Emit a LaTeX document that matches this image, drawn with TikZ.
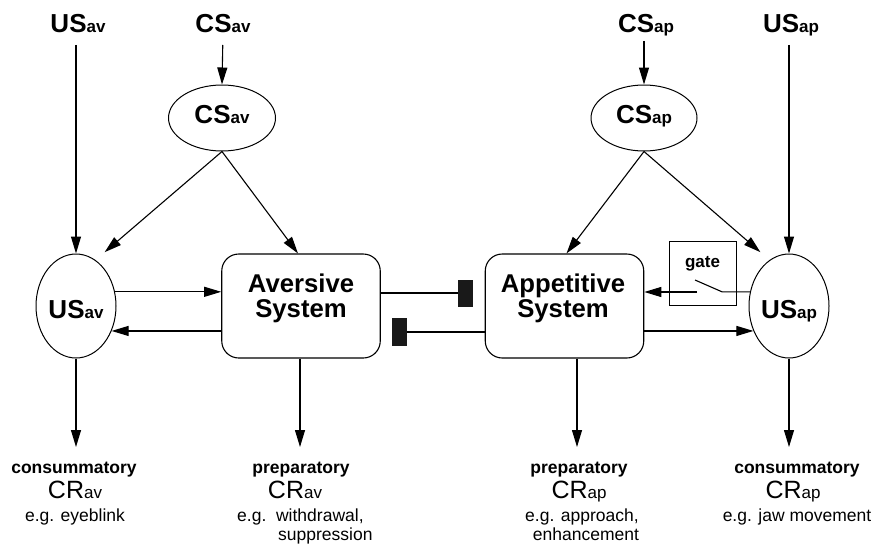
\documentclass[tikz,border=0pt]{standalone}
\usepackage{fontspec}
\setmainfont{Liberation Sans}
\usetikzlibrary{arrows.meta,shapes.geometric}

% stimulus / response name with a smaller trailing tag (US av, CR ap, ...)
\newcommand\tagged[2]{#1{\fontsize{17}{17}\selectfont #2}}

\begin{document}
\begin{tikzpicture}[x=1pt,y=-1pt,
  line/.style={line width=1.1pt},
  arr/.style={line, -{Triangle[length=17pt,width=10pt]}},
  stim/.style={font=\fontsize{26}{26}\selectfont\bfseries, inner sep=0pt, anchor=base},
  oval/.style={ellipse, draw, line width=1pt, inner sep=0pt, text depth=0pt,
               font=\fontsize{26}{26}\selectfont\bfseries},
  sysbox/.style={draw, line width=1.1pt, rounded corners=17pt, minimum width=158.5pt,
                 minimum height=104pt, inner sep=0pt},
  systxt/.style={font=\fontsize{25.7}{26}\selectfont\bfseries, inner sep=0pt, anchor=base},
  blk/.style={fill=black!90, minimum width=15pt, minimum height=27pt, inner sep=0pt},
  kind/.style={font=\fontsize{17.5}{18}\selectfont\bfseries, inner sep=0pt, anchor=base},
  resp/.style={font=\fontsize{25}{25}\selectfont, inner sep=0pt, anchor=base},
  eg/.style={font=\fontsize{17.5}{18}\selectfont, inner sep=0pt, anchor=base},
]
\useasboundingbox (0,0) rectangle (874,543);
\fill[white] (0,0) rectangle (874,543);

% incoming stimuli
\node[stim] (usavL) at (78,33)  {\tagged{US}{av}};
\node[stim] (csavL) at (223,33) {\tagged{CS}{av}};
\node[stim] (csapL) at (646,33) {\tagged{CS}{ap}};
\node[stim] (usapL) at (791,33) {\tagged{US}{ap}};

% stimulus representations
\node[oval, minimum width=107pt, minimum height=66pt, text height=10pt] (csav) at (222,118) {\tagged{CS}{av}};
\node[oval, minimum width=106pt, minimum height=66pt, text height=10pt] (csap) at (644,118) {\tagged{CS}{ap}};
\node[oval, minimum width=80pt, minimum height=104pt, text height=24pt] (usav) at (76,306) {\tagged{US}{av}};
\node[oval, minimum width=80pt, minimum height=104pt, text height=24pt] (usap) at (789,306) {\tagged{US}{ap}};

% motivational systems
\node[sysbox] (av) at (301,306) {};
\node[sysbox] (ap) at (564.5,306) {};
\node[systxt] (avt1) at (301,292) {Aversive};
\node[systxt] (avt2) at (301,317) {System};
\node[systxt] (apt1) at (563,292) {Appetitive};
\node[systxt] (apt2) at (563,317) {System};

% mutual inhibition
\node[blk] (b1) at (465.5,293) {};
\node[blk, minimum height=28pt] (b2) at (399.5,332) {};
\draw[line] (av.east |- b1.west) -- (b1.west);
\draw[line] (ap.west |- b2.east) -- (b2.east);

% gate with open switch
\node[draw, line width=1pt, minimum width=67pt, minimum height=64pt, inner sep=0pt] (gate) at (702.5,273) {};
\node[font=\fontsize{17}{17}\selectfont\bfseries, inner sep=0pt, anchor=base] (gatet) at (702.5,267) {gate};
\coordinate (swR) at (722,292);
\coordinate (swT) at (695,280);
\coordinate (swL) at (697,292);
\draw[line] (usap.160) -- (usap.160 -| swR) -- (swT);
\draw[arr] (swL) -- (ap.east |- swL);

% US <-> system loops
\draw[arr] (usav.20) -- (usav.20 -| av.west);
\draw[arr] (usav.-35 -| av.west) -- (usav.-35);
\draw[arr] (ap.east |- usap.215) -- (usap.215);

% inputs from the top
\draw[arr, shorten <=12pt] (usavL.base -| usav.north) -- (usav.north);
\draw[arr, shorten <=12pt] (csavL.base) -- (csav.north);
\draw[arr, shorten <=8pt]  (csapL.base -| csap.north) -- (csap.north);
\draw[arr, shorten <=12pt] (usapL.base -| usap.north) -- (usap.north);

\draw[arr] (csav.south) -- ([xshift=-3pt]av.north);
\draw[arr, shorten >=12pt] (csav.south) -- (usav.67);
\draw[arr] (csap.south) -- ([xshift=2pt]ap.north);
\draw[arr, shorten >=12pt] (csap.south) -- (usap.113);

% conditioned responses
\coordinate (crA) at (76,447);
\coordinate (crB) at (300,447);
\coordinate (crC) at (577,447);
\coordinate (crD) at (789,447);
\draw[arr] (usav.south) -- (crA);
\draw[arr] (av.south -| crB) -- (crB);
\draw[arr] (ap.south -| crC) -- (crC);
\draw[arr] (usap.south) -- (crD);

\node[kind] (k1) at (74,473) {consummatory};
\node[resp] (r1) at (75,498) {\tagged{CR}{av}};
\node[eg]   (e1) at (75,521) {e.g. eyeblink};

\node[kind] (k2) at (301,473) {preparatory};
\node[resp] (r2) at (295,498) {\tagged{CR}{av}};
\node[eg, anchor=base west] (e2) at (237,521) {e.g.\ \ withdrawal,};
\node[eg, anchor=base west] (e2b) at (278,540) {suppression};

\node[kind] (k3) at (579,473) {preparatory};
\node[resp] (r3) at (579,498) {\tagged{CR}{ap}};
\node[eg, anchor=base west] (e3) at (525,521) {e.g. approach,};
\node[eg] (e3b) at (586,540) {enhancement};

\node[kind] (k4) at (797,473) {consummatory};
\node[resp] (r4) at (793,498) {\tagged{CR}{ap}};
\node[eg]   (e4) at (797,521) {e.g. jaw movement};
\end{tikzpicture}
\end{document}
